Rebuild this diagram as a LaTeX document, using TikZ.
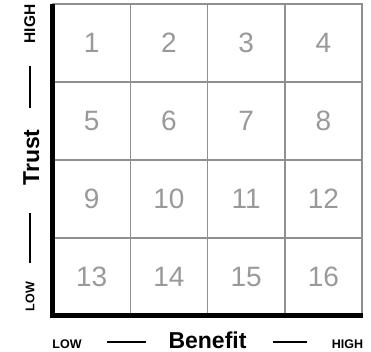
\documentclass[tikz,border=0pt]{standalone}
\usepackage{fontspec}
\setmainfont{Liberation Sans}
\definecolor{gridgray}{HTML}{8F8F8F}
\definecolor{numgray}{HTML}{999999}
\begin{document}
\begin{tikzpicture}[x=1pt,y=-1pt,
  cell/.style={draw=gridgray,line width=1.5pt,minimum width=77.25pt,minimum height=78pt,inner sep=0pt,
    text=numgray,font=\fontsize{28}{28}\selectfont},
  axislabel/.style={font=\bfseries\fontsize{23}{23}\selectfont,inner sep=0pt},
  smalllabel/.style={font=\bfseries\fontsize{12.5}{12.5}\selectfont,inner sep=0pt},
  dashline/.style={line width=1.8pt}]
\useasboundingbox (0,0) rectangle (371,352);
\foreach \r in {0,1,2,3}{
  \foreach \c in {0,1,2,3}{
    \pgfmathtruncatemacro{\n}{\r*4+\c+1}
    \node[cell] (c\n) at ({53+77.25*(\c+0.5)},{4+78*(\r+0.5)}) {\n};
  }
}
\draw[line width=5pt,miter limit=10] (52.5,4.5) -- (52.5,315.5) -- (362.5,315.5);
% vertical labels
\node[axislabel,rotate=90,anchor=base] (trust) at (39,157.5) {Trust};
\node[font=\bfseries\fontsize{15.5}{15.5}\selectfont,inner sep=0pt,rotate=90,anchor=base] (vhigh) at (35,24) {HIGH};
\node[smalllabel,rotate=90,anchor=base] (vlow) at (34.3,296.5) {LOW};
\coordinate (d1a) at (30,66); \coordinate (d1b) at (30,108);
\coordinate (d2a) at (30,213); \coordinate (d2b) at (30,263);
\draw[dashline] (d1a) -- (d1b);
\draw[dashline] (d2a) -- (d2b);
% horizontal labels
\node[axislabel,anchor=base] (benefit) at (207.5,348) {Benefit};
\node[smalllabel,anchor=base] (hlow) at (67,348) {LOW};
\node[smalllabel,anchor=base] (hhigh) at (347.5,348) {HIGH};
\coordinate (d3a) at (107,342); \coordinate (d3b) at (146,342);
\coordinate (d4a) at (273,342); \coordinate (d4b) at (307,342);
\draw[dashline] (d3a) -- (d3b);
\draw[dashline] (d4a) -- (d4b);
\end{tikzpicture}
\end{document}
